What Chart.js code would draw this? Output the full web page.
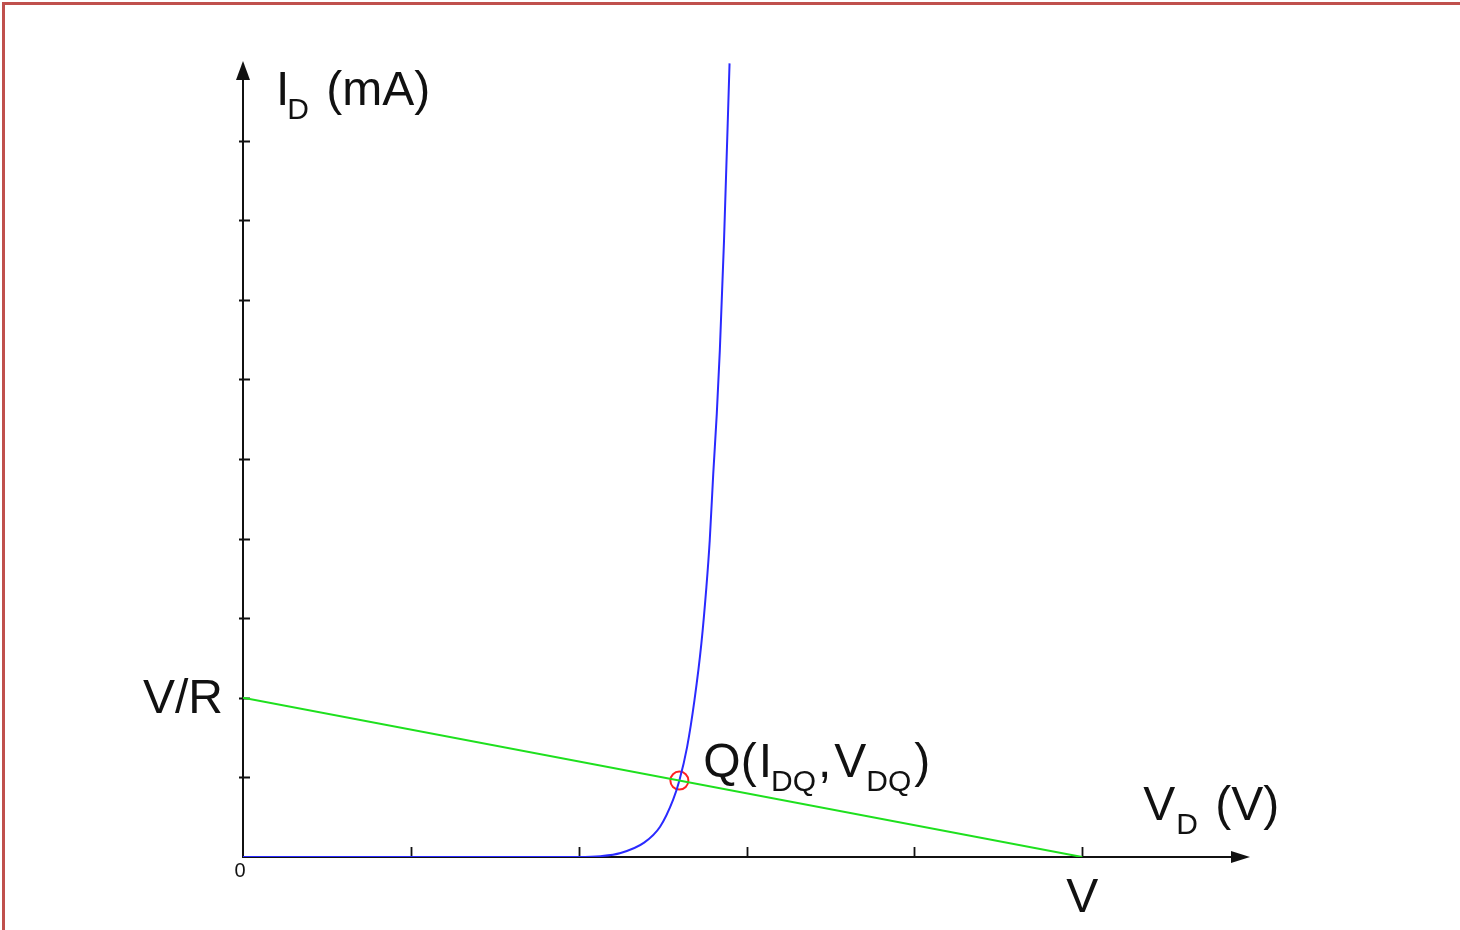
<!DOCTYPE html>
<html>
<head>
<meta charset="utf-8">
<script src="https://cdn.jsdelivr.net/npm/chart.js@4.4.1/dist/chart.umd.min.js"></script>
<style>
  html, body { margin: 0; padding: 0; background: #ffffff; }
  #wrap { width: 1460px; height: 930px; position: relative; }
  canvas { display: block; }
</style>
</head>
<body>
<div id="wrap"><canvas id="c" width="1460" height="930"></canvas></div>
<script>
// ---- data ----
const xTicks = [1, 2, 3, 4, 5];
const yTicks = [1, 2, 3, 4, 5, 6, 7, 8, 9];
const vdCurve = [0, 1.0, 2.0, 2.13, 2.25, 2.39, 2.485, 2.563, 2.6, 2.646, 2.69, 2.731, 2.761, 2.781, 2.802, 2.823, 2.841, 2.866, 2.899];
const idCurve = [0, 0, 0, 0.01, 0.05, 0.18, 0.38, 0.72, 0.96, 1.38, 1.97, 2.68, 3.39, 3.98, 4.82, 5.57, 6.36, 7.74, 9.97];
const loadVd = [0, 5];
const loadId = [2, 0];
const qVd = [2.6];
const qId = [0.96];
const axisMax = { x: 6, y: 10 };

const FONT = '"Liberation Sans", Arial, Helvetica, sans-serif';
const TEXT = '#111111';

function pts(xs, ys) { return xs.map((x, i) => ({ x: x, y: ys[i] })); }

const overlay = {
  id: 'overlay',
  beforeDraw(chart) {
    const ctx = chart.ctx;
    ctx.save();
    ctx.fillStyle = '#ffffff';
    ctx.fillRect(0, 0, chart.width, chart.height);
    // frame (left + top edges)
    ctx.fillStyle = '#c0504d';
    ctx.fillRect(2, 2, chart.width - 2, 3);
    ctx.fillRect(2, 2, 3, chart.height - 2);
    ctx.restore();
  },
  beforeDatasetsDraw(chart) {
    const ctx = chart.ctx;
    const xs = chart.scales.x, ys = chart.scales.y;
    const x0 = xs.getPixelForValue(0), y0 = ys.getPixelForValue(0);
    const xEnd = xs.getPixelForValue(axisMax.x), yEnd = ys.getPixelForValue(axisMax.y);
    ctx.save();
    ctx.strokeStyle = '#111111';
    ctx.fillStyle = '#111111';
    ctx.lineWidth = 2;
    // axes
    ctx.beginPath();
    ctx.moveTo(x0, y0 + 1); ctx.lineTo(x0, yEnd + 14);
    ctx.moveTo(x0 - 1, y0); ctx.lineTo(xEnd - 14, y0);
    ctx.stroke();
    // arrowheads
    ctx.beginPath();
    ctx.moveTo(x0, yEnd); ctx.lineTo(x0 - 7, yEnd + 19); ctx.lineTo(x0 + 7, yEnd + 19); ctx.closePath();
    ctx.fill();
    ctx.beginPath();
    ctx.moveTo(xEnd, y0); ctx.lineTo(xEnd - 19, y0 - 6); ctx.lineTo(xEnd - 19, y0 + 6); ctx.closePath();
    ctx.fill();
    // ticks
    ctx.lineWidth = 1.8;
    ctx.beginPath();
    xTicks.forEach(v => { const p = Math.round(xs.getPixelForValue(v)) + 0.5; ctx.moveTo(p, y0); ctx.lineTo(p, y0 - 10); });
    yTicks.forEach(v => { const p = Math.round(ys.getPixelForValue(v)) + 0.5; ctx.moveTo(x0 - 4, p); ctx.lineTo(x0 + 7, p); });
    ctx.stroke();
    ctx.restore();
  },
  afterDraw(chart) {
    const ctx = chart.ctx;
    const xs = chart.scales.x, ys = chart.scales.y;
    const x0 = xs.getPixelForValue(0), y0 = ys.getPixelForValue(0);
    const big = '48px ' + FONT, sub = '30px ' + FONT;
    ctx.save();
    ctx.fillStyle = TEXT;
    ctx.textBaseline = 'alphabetic';
    function run(parts, x, y) {
      parts.forEach(p => {
        ctx.font = p.s ? sub : big;
        ctx.textAlign = 'left';
        ctx.fillText(p.t, x, y + (p.s ? 14 : 0));
        x += ctx.measureText(p.t).width + (p.g || 0);
      });
    }
    // y axis title
    run([{ t: 'I', g: -2 }, { t: 'D', s: 1, g: 4 }, { t: ' (mA)' }], x0 + 33, ys.getPixelForValue(axisMax.y) + 44);
    // x axis title
    run([{ t: 'V', g: 1 }, { t: 'D', s: 1, g: 4 }, { t: ' (V)' }], xs.getPixelForValue(5) + 61, y0 - 37);
    // Q label
    const qx = xs.getPixelForValue(qVd[0]), qy = ys.getPixelForValue(qId[0]);
    run([{ t: 'Q(', g: 2 }, { t: 'I', g: -1 }, { t: 'DQ', s: 1, g: 2 }, { t: ',', g: 3 }, { t: 'V', g: 0 }, { t: 'DQ', s: 1, g: 3 }, { t: ')' }], qx + 24, qy - 4);
    // V/R
    ctx.font = big;
    ctx.textAlign = 'right';
    ctx.fillText('V/R', x0 - 20, ys.getPixelForValue(loadId[0]) + 15);
    // V
    ctx.textAlign = 'center';
    ctx.fillText('V', xs.getPixelForValue(loadVd[1]), y0 + 55);
    // origin 0
    ctx.font = '20px ' + FONT;
    ctx.fillText('0', x0 - 3, y0 + 20);
    ctx.restore();
  }
};

new Chart(document.getElementById('c'), {
  type: 'scatter',
  data: {
    datasets: [
      {
        label: 'load line',
        data: pts(loadVd, loadId),
        showLine: true,
        borderColor: '#1ee01e',
        borderWidth: 2,
        pointRadius: 0,
        fill: false
      },
      {
        label: 'diode',
        data: pts(vdCurve, idCurve),
        showLine: true,
        borderColor: '#2a2aff',
        borderWidth: 2,
        pointRadius: 0,
        cubicInterpolationMode: 'monotone',
        fill: false
      },
      {
        label: 'Q',
        data: pts(qVd, qId),
        showLine: false,
        pointRadius: 9,
        pointStyle: 'circle',
        borderColor: '#ff2020',
        borderWidth: 2,
        backgroundColor: 'rgba(0,0,0,0)'
      }
    ]
  },
  options: {
    responsive: false,
    animation: false,
    devicePixelRatio: 1,
    layout: { padding: { left: 243, right: 210, top: 61, bottom: 73 } },
    plugins: { legend: { display: false }, tooltip: { enabled: false } },
    scales: {
      x: { type: 'linear', min: 0, max: axisMax.x, display: false },
      y: { type: 'linear', min: 0, max: axisMax.y, display: false }
    }
  },
  plugins: [overlay]
});
</script>
</body>
</html>
